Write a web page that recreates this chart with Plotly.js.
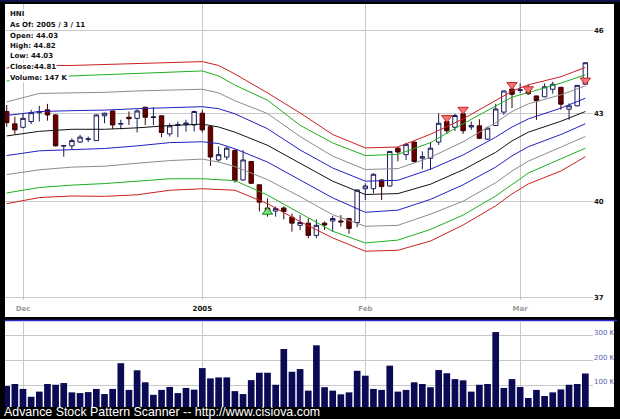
<!DOCTYPE html>
<html>
<head>
<meta charset="utf-8">
<script src="https://cdn.plot.ly/plotly-3.0.1.min.js"></script>
<style>
  html, body { margin: 0; padding: 0; background: #000; }
  #chart { width: 620px; height: 419px; }
</style>
</head>
<body>
<div id="chart"></div>
<script>
// HNI daily prices, 29 Nov 2004 - 11 Mar 2005
const symbol = 'HNI';
const asOf = '2005 / 3 / 11';

const dates = [
  '2004-11-29','2004-11-30',
  '2004-12-01','2004-12-02','2004-12-03','2004-12-06','2004-12-07','2004-12-08','2004-12-09','2004-12-10',
  '2004-12-13','2004-12-14','2004-12-15','2004-12-16','2004-12-17','2004-12-20','2004-12-21','2004-12-22',
  '2004-12-23','2004-12-27','2004-12-28','2004-12-29','2004-12-30','2004-12-31',
  '2005-01-03','2005-01-04','2005-01-05','2005-01-06','2005-01-07','2005-01-10','2005-01-11','2005-01-12',
  '2005-01-13','2005-01-14','2005-01-18','2005-01-19','2005-01-20','2005-01-21','2005-01-24','2005-01-25',
  '2005-01-26','2005-01-27','2005-01-28','2005-01-31',
  '2005-02-01','2005-02-02','2005-02-03','2005-02-04','2005-02-07','2005-02-08','2005-02-09','2005-02-10',
  '2005-02-11','2005-02-14','2005-02-15','2005-02-16','2005-02-17','2005-02-18','2005-02-22','2005-02-23',
  '2005-02-24','2005-02-25','2005-02-28',
  '2005-03-01','2005-03-02','2005-03-03','2005-03-04','2005-03-07','2005-03-08','2005-03-09','2005-03-10',
  '2005-03-11'
];

const openP = [
  43.06,42.63,42.51,42.71,43.02,43.12,42.94,41.86,41.87,42.00,
  42.09,42.05,42.91,43.08,42.62,42.86,42.82,43.21,42.85,42.91,
  42.28,42.58,42.60,42.59,43.00,42.53,41.39,41.49,41.71,40.72,
  41.34,40.56,39.80,39.70,39.80,39.50,39.24,39.31,38.92,39.31,
  39.38,39.38,39.46,39.33,40.43,40.43,40.72,40.52,41.79,41.57,
  42.00,41.45,41.45,42.00,42.71,42.51,42.98,42.52,42.56,42.10,
  42.57,43.04,43.86,43.81,43.77,43.61,43.58,43.85,43.92,43.14,
  43.26,44.03
];
const highP = [
  43.29,42.88,43.00,43.12,43.26,43.33,42.96,41.90,42.13,42.25,
  42.19,42.96,43.02,43.09,42.77,43.06,43.14,43.23,43.21,42.92,
  42.65,42.71,42.77,43.09,43.12,42.55,41.85,41.85,41.76,41.73,
  41.35,40.57,40.11,39.85,39.85,39.62,39.57,39.46,39.43,39.36,
  39.54,39.57,39.47,40.40,40.61,40.94,40.74,41.69,41.85,41.97,
  42.01,41.68,42.00,43.00,42.77,42.98,42.99,42.71,42.79,42.53,
  43.33,43.80,44.01,44.06,44.01,43.62,44.06,44.12,43.93,43.35,
  44.00,44.82
];
const lowP = [
  42.53,42.28,42.47,42.62,42.71,42.74,41.85,41.50,41.73,41.97,
  42.00,42.04,42.65,42.45,42.44,42.59,42.33,42.59,42.59,42.17,
  42.19,42.17,42.36,42.36,42.33,41.19,41.34,41.39,40.63,40.70,
  40.59,39.69,39.52,39.52,39.43,39.04,39.09,38.83,38.83,39.09,
  39.04,39.20,38.97,39.18,40.06,40.28,40.06,40.50,41.34,41.39,
  41.30,41.08,41.06,41.90,42.28,42.38,42.28,42.42,42.10,42.07,
  42.56,42.94,43.18,43.71,43.65,42.77,43.56,43.69,43.12,42.77,
  43.24,44.03
];
const closeP = [
  42.67,42.42,42.82,43.02,43.06,42.94,41.87,41.88,42.05,42.17,
  42.11,42.94,43.00,42.59,42.64,42.81,43.08,42.86,42.87,42.33,
  42.56,42.60,42.66,43.06,42.42,41.49,41.57,41.79,40.70,41.39,
  40.61,39.99,39.69,39.78,39.69,39.31,39.33,38.92,39.24,39.25,
  39.46,39.35,39.14,40.39,40.52,40.91,40.50,41.68,41.66,41.92,
  41.34,41.50,41.79,42.65,42.39,42.92,42.39,42.57,42.13,42.48,
  43.15,43.79,43.67,43.83,43.69,43.44,43.94,44.03,43.32,43.26,
  43.99,44.81
];
// daily volume, thousands of shares
const volumeK = [
   96,104, 84, 52, 73,104,101,108, 70, 67,
   71, 84, 63, 84,189, 80,160,111, 60, 80,
   92, 67, 88, 81,169,127,131,131, 75, 63,
  120,150,150,101,247,154,165, 77,262, 91,
   77, 62, 70,158,138, 84, 80,179, 73, 80,
  111,104, 91,161,148,124,119, 73,101,104,
  316, 88,124, 92, 47, 80, 55, 70, 82,101,
  104,147
];

// envelope bands around the trend line, sampled dates
const bandDates = [
  '2004-11-29','2004-12-03','2004-12-09','2004-12-15','2004-12-21','2004-12-28','2005-01-03',
  '2005-01-05','2005-01-07','2005-01-13','2005-01-20','2005-01-26','2005-02-01','2005-02-07',
  '2005-02-11','2005-02-17','2005-02-24','2005-02-28','2005-03-02','2005-03-08','2005-03-11'
];
const bandUpper4 = [44.62,44.71,44.71,44.74,44.78,44.82,44.85,44.71,44.40,43.72,43.01,42.26,41.80,41.83,42.27,42.80,43.44,43.78,44.01,44.30,44.64];
const bandUpper3 = [44.15,44.22,44.33,44.37,44.43,44.47,44.51,44.33,44.00,43.46,42.58,41.97,41.54,41.58,41.98,42.63,43.27,43.57,43.73,44.07,44.37];
const bandUpper2 = [43.40,43.70,43.72,43.74,43.79,43.83,43.85,43.72,43.44,42.99,42.19,41.52,41.07,41.10,41.48,42.01,42.67,43.06,43.33,43.65,43.97];
const bandUpper1 = [42.92,43.06,43.09,43.11,43.16,43.20,43.23,43.16,42.98,42.46,41.73,41.12,40.68,40.71,41.08,41.56,42.17,42.52,42.80,43.18,43.53];
const bandMiddle = [42.21,42.37,42.44,42.44,42.49,42.57,42.62,42.52,42.34,41.89,41.28,40.68,40.24,40.27,40.58,41.06,41.65,42.04,42.34,42.72,43.06];
const bandLower1 = [41.54,41.70,41.74,41.78,41.87,41.98,42.01,41.95,41.77,41.32,40.72,40.13,39.66,39.73,40.08,40.56,41.15,41.53,41.84,42.26,42.63];
const bandLower2 = [40.90,41.06,41.15,41.18,41.28,41.37,41.42,41.32,41.17,40.73,40.17,39.58,39.21,39.24,39.60,40.02,40.63,41.02,41.35,41.82,42.19];
const bandLower3 = [40.29,40.47,40.55,40.60,40.68,40.76,40.76,40.74,40.70,40.22,39.63,39.05,38.68,38.77,39.11,39.57,40.19,40.58,40.95,41.43,41.79];
const bandLower4 = [39.94,40.14,40.19,40.18,40.23,40.38,40.43,40.41,40.38,39.94,39.36,38.84,38.42,38.45,38.74,39.25,39.87,40.26,40.59,41.02,41.50];

// pattern signals
const buySignalDates = ['2005-01-13'];
const buySignalPrices = [39.67];
const sellSignalDates = ['2005-02-15','2005-02-17','2005-02-28','2005-03-02','2005-03-11'];
const sellSignalPrices = [42.84, 43.13, 44.01, 43.86, 44.17];

// axis ticks
const monthTickDates = ['2004-12-01','2005-01-03','2005-02-01','2005-03-01'];
const monthTickText = ['Dec', '<span style="color:#111">2005</span>', 'Feb', 'Mar'];
const priceTicks = [37, 40, 43, 46];
const volumeTicks = [100, 200, 300];
const volumeTickText = ['100 K', '200 K', '300 K'];

// ---- geometry helpers (pixel -> paper) ----
const W = 620, H = 419;
const PL = 5, PR = 593, PT = 4, PB = 407;
const px = p => (p - PL) / (PR - PL);
const py = p => (PB - p) / (PB - PT);

const bandStyles = [
  [bandUpper4, '#cc1f1f'], [bandUpper3, '#1fae1f'], [bandUpper2, '#8c8c8c'], [bandUpper1, '#2020c0'],
  [bandMiddle, '#111111'],
  [bandLower1, '#2020c0'], [bandLower2, '#8c8c8c'], [bandLower3, '#1fae1f'], [bandLower4, '#cc1f1f']
];

const traces = bandStyles.map(([vals, col]) => ({
  type: 'scatter', mode: 'lines', x: bandDates, y: vals,
  xaxis: 'x', yaxis: 'y', line: { color: col, width: 1 }, hoverinfo: 'skip'
}));

traces.push({
  type: 'candlestick', x: dates, open: openP, high: highP, low: lowP, close: closeP,
  xaxis: 'x', yaxis: 'y', whiskerwidth: 0, hoverinfo: 'skip',
  increasing: { line: { color: '#1a1a5a', width: 1 }, fillcolor: '#ffffff' },
  decreasing: { line: { color: '#3d0000', width: 1 }, fillcolor: '#6a0000' }
});

traces.push({
  type: 'scatter', mode: 'markers', x: buySignalDates, y: buySignalPrices,
  xaxis: 'x', yaxis: 'y', hoverinfo: 'skip',
  marker: { symbol: 'triangle-up', size: 9, color: '#7ee07e', line: { color: '#118811', width: 1 } }
});
traces.push({
  type: 'scatter', mode: 'markers', x: sellSignalDates, y: sellSignalPrices,
  xaxis: 'x', yaxis: 'y', hoverinfo: 'skip',
  marker: { symbol: 'triangle-down', size: 9, color: '#f07878', line: { color: '#cc2222', width: 1 } }
});

traces.push({
  type: 'bar', x: dates, y: volumeK, xaxis: 'x2', yaxis: 'y2', hoverinfo: 'skip',
  marker: { color: '#0b0b55', line: { width: 0 } }
});

const gridCol = '#c8c8c8';
const last = dates.length - 1;
const infoLines = [
  symbol,
  'As Of: ' + asOf,
  'Open: ' + openP[last].toFixed(2),
  'High: ' + highP[last].toFixed(2),
  'Low: ' + lowP[last].toFixed(2),
  'Close:' + closeP[last].toFixed(2),
  'Volume: ' + volumeK[last] + ' K'
];
const infoY = [14.5, 25, 35.5, 46, 56.5, 67, 77.5];

const annotations = infoLines.map((t, i) => ({
  xref: 'paper', yref: 'paper', x: px(9), y: py(infoY[i]),
  xanchor: 'left', yanchor: 'middle', showarrow: false, align: 'left',
  text: t, bgcolor: '#ffffff', borderpad: 0,
  font: { family: 'DejaVu Sans', size: 7, weight: 'bold', color: '#111111' }
}));
annotations.push({
  xref: 'paper', yref: 'paper', x: px(2), y: py(412),
  xanchor: 'left', yanchor: 'middle', showarrow: false,
  text: 'Advance Stock Pattern Scanner -- http://www.cisiova.com',
  font: { family: 'Liberation Sans', size: 12.4, color: '#ffffff' }
});

const shapes = [
  { type: 'rect', xref: 'paper', yref: 'paper', layer: 'below',
    x0: px(5), x1: px(614), y0: py(317), y1: py(4), fillcolor: '#ffffff', line: { width: 0 } },
  { type: 'rect', xref: 'paper', yref: 'paper', layer: 'below',
    x0: px(5), x1: px(614), y0: py(407), y1: py(321), fillcolor: '#ffffff', line: { width: 0 } },
  { type: 'line', xref: 'paper', yref: 'paper', layer: 'below',
    x0: px(5), x1: px(617), y0: py(320.5), y1: py(320.5), line: { color: '#2a2ac8', width: 1.5 } },
  { type: 'line', xref: 'paper', yref: 'paper', layer: 'below',
    x0: px(0), x1: px(620), y0: py(1), y1: py(1), line: { color: '#10104a', width: 2 } }
];

const xRange = [(PL - 6.7) / 8.15, (PR - 6.7) / 8.15];

const layout = {
  width: W, height: H,
  paper_bgcolor: '#000000', plot_bgcolor: 'rgba(0,0,0,0)',
  margin: { l: PL, r: W - PR, t: PT, b: H - PB, pad: 0 },
  showlegend: false,
  boxgap: 0.22,
  bargap: 0.18,
  font: { family: 'DejaVu Sans' },
  xaxis: {
    domain: [0, 1], anchor: 'y', type: 'category',
    categoryorder: 'array', categoryarray: dates,
    range: xRange, rangeslider: { visible: false },
    tickmode: 'array', tickvals: monthTickDates, ticktext: monthTickText,
    showgrid: true, gridcolor: gridCol, gridwidth: 1,
    zeroline: false, showline: false, ticks: '', ticklabelstandoff: 3,
    tickfont: { family: 'DejaVu Sans', size: 7, weight: 'bold', color: '#999999' },
    fixedrange: true
  },
  yaxis: {
    domain: [py(300), 1], anchor: 'x', type: 'log',
    range: [Math.log10(36.92), Math.log10(47.01)],
    side: 'right', tickmode: 'array', tickvals: priceTicks,
    ticktext: priceTicks.map(String),
    showgrid: true, gridcolor: gridCol, gridwidth: 1,
    zeroline: false, showline: false, ticks: '',
    tickfont: { family: 'DejaVu Sans', size: 7, weight: 'bold', color: '#111111' },
    fixedrange: true
  },
  xaxis2: {
    domain: [0, 1], anchor: 'y2', type: 'category',
    categoryorder: 'array', categoryarray: dates,
    range: xRange,
    tickmode: 'array', tickvals: monthTickDates, showticklabels: false,
    showgrid: true, gridcolor: gridCol, gridwidth: 1,
    zeroline: false, showline: false, ticks: '', fixedrange: true
  },
  yaxis2: {
    domain: [0, py(321)], anchor: 'x2',
    range: [10.2, 361.2], side: 'right',
    tickmode: 'array', tickvals: volumeTicks, ticktext: volumeTickText,
    showgrid: true, gridcolor: gridCol, gridwidth: 1,
    zeroline: false, showline: false, ticks: '', ticklabelshift: -3,
    tickfont: { family: 'DejaVu Sans', size: 7, color: '#5a5ab0' },
    fixedrange: true
  },
  annotations: annotations,
  shapes: shapes
};

Plotly.newPlot('chart', traces, layout, { staticPlot: true, displayModeBar: false });
</script>
</body>
</html>
